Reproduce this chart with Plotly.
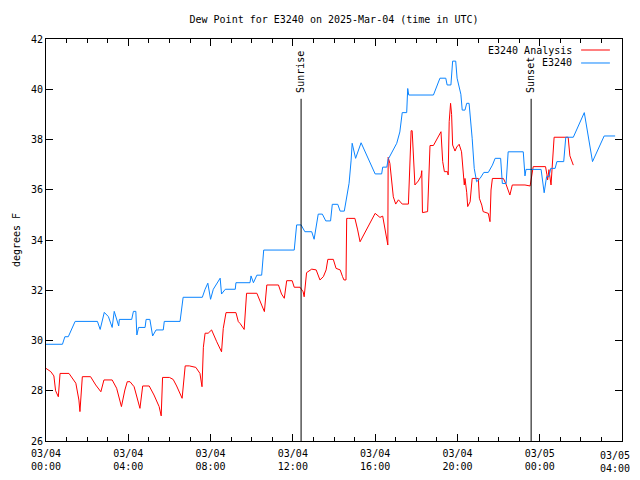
import plotly.graph_objects as go

# ---- data ----
analysis_times = [
    "03-04 00:00", "03-04 00:14", "03-04 00:23", "03-04 00:28", "03-04 00:36", "03-04 00:41",
    "03-04 01:07", "03-04 01:27", "03-04 01:36", "03-04 01:39", "03-04 01:46", "03-04 02:10",
    "03-04 02:25", "03-04 02:40", "03-04 02:49", "03-04 03:13", "03-04 03:26", "03-04 03:40",
    "03-04 03:50", "03-04 03:57", "03-04 04:05", "03-04 04:17", "03-04 04:34", "03-04 04:42",
    "03-04 05:01", "03-04 05:15", "03-04 05:30", "03-04 05:36", "03-04 05:40", "03-04 06:00",
    "03-04 06:11", "03-04 06:21", "03-04 06:37", "03-04 06:46", "03-04 06:58", "03-04 07:17",
    "03-04 07:29", "03-04 07:35", "03-04 07:39", "03-04 07:44", "03-04 07:53", "03-04 08:03",
    "03-04 08:18", "03-04 08:32", "03-04 08:37", "03-04 08:45", "03-04 09:14", "03-04 09:21",
    "03-04 09:26", "03-04 09:38", "03-04 09:45", "03-04 10:15", "03-04 10:29", "03-04 10:37",
    "03-04 10:44", "03-04 11:18", "03-04 11:27", "03-04 11:35", "03-04 11:42", "03-04 11:58",
    "03-04 12:04", "03-04 12:21", "03-04 12:30", "03-04 12:33", "03-04 12:40", "03-04 12:55",
    "03-04 13:08", "03-04 13:19", "03-04 13:29", "03-04 13:37", "03-04 13:42", "03-04 13:58",
    "03-04 14:06", "03-04 14:18", "03-04 14:25", "03-04 14:29", "03-04 14:35", "03-04 14:37",
    "03-04 14:42", "03-04 15:01", "03-04 15:09", "03-04 15:16", "03-04 16:00", "03-04 16:14",
    "03-04 16:22", "03-04 16:37", "03-04 16:38", "03-04 16:43", "03-04 16:53", "03-04 17:00",
    "03-04 17:08", "03-04 17:19", "03-04 17:37", "03-04 17:45", "03-04 17:48", "03-04 17:53",
    "03-04 17:56", "03-04 18:06", "03-04 18:14", "03-04 18:16", "03-04 18:18", "03-04 18:33",
    "03-04 18:37", "03-04 18:40", "03-04 18:50", "03-04 19:12", "03-04 19:17", "03-04 19:22",
    "03-04 19:31", "03-04 19:33", "03-04 19:36", "03-04 19:40", "03-04 19:43", "03-04 19:46",
    "03-04 19:53", "03-04 19:58", "03-04 20:05", "03-04 20:12", "03-04 20:20", "03-04 20:22",
    "03-04 20:27", "03-04 20:30", "03-04 20:37", "03-04 20:43", "03-04 21:01", "03-04 21:04",
    "03-04 21:11", "03-04 21:15", "03-04 21:30", "03-04 21:35", "03-04 21:38", "03-04 21:42",
    "03-04 22:14", "03-04 22:21", "03-04 22:33", "03-04 22:40", "03-04 23:17", "03-04 23:32",
    "03-04 23:41", "03-05 00:17", "03-05 00:21", "03-05 00:23", "03-05 00:27", "03-05 00:33",
    "03-05 00:42", "03-05 01:23", "03-05 01:28", "03-05 01:38",
]
analysis_values = [
    28.89, 28.76, 28.59, 28.00, 27.76, 28.69,
    28.69, 28.30, 27.63, 27.17, 28.56, 28.56,
    28.23, 27.96, 28.43, 28.43, 28.10, 27.37,
    28.03, 28.36, 28.36, 28.16, 27.30, 28.19,
    28.19, 27.83, 27.37, 27.00, 28.53, 28.53,
    28.45, 28.19, 27.70, 28.99, 28.99, 28.93,
    28.69, 28.16, 29.73, 30.29, 30.29, 30.42,
    29.95, 29.55, 30.48, 31.11, 31.11, 30.75,
    30.68, 30.44, 31.88, 31.88, 31.41, 31.15,
    32.21, 32.21, 31.85, 31.68, 32.38, 32.38,
    32.12, 32.12, 31.94, 31.74, 32.70, 32.84,
    32.81, 32.41, 32.54, 32.81, 33.23, 33.23,
    32.87, 32.81, 32.54, 32.41, 32.41, 34.86,
    34.86, 34.86, 34.40, 33.93, 35.06, 34.90,
    34.95, 33.80, 37.29, 37.05, 35.72, 35.43,
    35.60, 35.43, 35.43, 38.35, 38.35, 36.72,
    36.19, 36.35, 36.55, 36.76, 35.09, 35.13,
    36.39, 37.76, 37.76, 38.31, 37.12, 36.72,
    36.72, 36.59, 38.71, 39.44, 39.00, 37.78,
    37.54, 37.70, 37.81, 37.51, 36.19, 36.45,
    35.90, 35.33, 35.52, 36.45, 36.45, 35.66,
    35.39, 35.13, 35.06, 34.73, 35.99, 36.45,
    36.45, 36.25, 35.79, 36.19, 36.19, 36.15,
    36.92, 36.92, 36.60, 36.39, 36.80, 36.19,
    38.09, 38.09, 37.35, 36.98,
]

station_times = [
    "03-04 00:00", "03-04 00:48", "03-04 00:55", "03-04 01:05", "03-04 01:25", "03-04 02:30",
    "03-04 02:38", "03-04 02:50", "03-04 03:02", "03-04 03:13", "03-04 03:19", "03-04 03:32",
    "03-04 03:34", "03-04 04:10", "03-04 04:15", "03-04 04:22", "03-04 04:25", "03-04 04:30",
    "03-04 04:49", "03-04 04:52", "03-04 05:03", "03-04 05:11", "03-04 05:21", "03-04 05:42",
    "03-04 05:45", "03-04 06:31", "03-04 06:40", "03-04 07:36", "03-04 07:44", "03-04 07:52",
    "03-04 08:00", "03-04 08:08", "03-04 08:28", "03-04 08:32", "03-04 08:43", "03-04 09:12",
    "03-04 09:14", "03-04 09:55", "03-04 09:58", "03-04 10:05", "03-04 10:15", "03-04 10:29",
    "03-04 10:35", "03-04 12:04", "03-04 12:11", "03-04 12:24", "03-04 12:35", "03-04 12:55",
    "03-04 13:02", "03-04 13:10", "03-04 13:14", "03-04 13:26", "03-04 13:36", "03-04 13:50",
    "03-04 13:55", "03-04 14:11", "03-04 14:18", "03-04 14:30", "03-04 14:37", "03-04 14:44",
    "03-04 14:50", "03-04 14:53", "03-04 15:03", "03-04 15:19", "03-04 16:00", "03-04 16:19",
    "03-04 16:22", "03-04 16:34", "03-04 16:38", "03-04 17:03", "03-04 17:12", "03-04 17:19",
    "03-04 17:32", "03-04 17:35", "03-04 17:38", "03-04 18:50", "03-04 19:09", "03-04 19:26",
    "03-04 19:30", "03-04 19:41", "03-04 19:46", "03-04 19:55", "03-04 19:59", "03-04 20:10",
    "03-04 20:14", "03-04 20:22", "03-04 20:27", "03-04 20:34", "03-04 20:43", "03-04 20:49",
    "03-04 20:56", "03-04 21:06", "03-04 21:17", "03-04 21:30", "03-04 21:42", "03-04 21:50",
    "03-04 22:06", "03-04 22:11", "03-04 22:22", "03-04 22:28", "03-04 23:12", "03-04 23:17",
    "03-04 23:20", "03-05 00:04", "03-05 00:13", "03-05 00:20", "03-05 00:27", "03-05 00:32",
    "03-05 00:45", "03-05 00:50", "03-05 01:10", "03-05 01:16", "03-05 01:38", "03-05 02:10",
    "03-05 02:34", "03-05 03:08", "03-05 03:40",
]
station_values = [
    29.85, 29.85, 30.15, 30.15, 30.76, 30.76,
    30.44, 31.12, 30.95, 30.52, 31.16, 30.58,
    30.84, 30.84, 31.16, 31.16, 30.22, 30.52,
    30.52, 30.84, 30.84, 30.18, 30.42, 30.42,
    30.76, 30.76, 31.72, 31.72, 32.04, 32.28,
    31.64, 32.04, 32.48, 31.85, 32.04, 32.04,
    32.30, 32.30, 32.57, 32.30, 32.60, 32.60,
    33.60, 33.60, 34.60, 34.60, 34.33, 34.33,
    34.03, 34.60, 35.03, 35.03, 34.76, 34.76,
    35.42, 35.42, 35.15, 35.15, 35.72, 36.26,
    37.18, 37.85, 37.25, 37.87, 36.63, 36.63,
    36.90, 36.90, 37.21, 37.85, 38.30, 39.07,
    39.07, 40.03, 39.77, 39.77, 40.44, 40.44,
    40.17, 40.17, 41.12, 41.12, 40.44, 39.80,
    39.17, 39.17, 39.44, 39.44, 38.05, 36.85,
    36.32, 36.45, 36.69, 36.69, 36.98, 37.25,
    37.25, 36.25, 36.25, 37.51, 37.51, 36.55,
    36.81, 36.81, 35.88, 36.52, 36.52, 36.85,
    36.85, 37.12, 37.12, 38.09, 38.09, 39.07,
    37.12, 38.14, 38.14,
]

tick_times = ["03-04 00:00", "03-04 04:00", "03-04 08:00", "03-04 12:00",
              "03-04 16:00", "03-04 20:00", "03-05 00:00", "03-05 04:00"]
tick_labels = ["03/04<br>00:00", "03/04<br>04:00", "03/04<br>08:00", "03/04<br>12:00",
               "03/04<br>16:00", "03/04<br>20:00", "03/05<br>00:00", "03/05<br>04:00"]

sun_events = ["Sunrise", "Sunset"]
sun_times = ["03-04 12:24", "03-04 23:35"]
sun_line_top = 39.62

YEAR = "2025-"
def ts(lst):
    return [YEAR + s for s in lst]

FONT = "DejaVu Sans Mono"
RED = "#ff0000"
BLUE = "#0a84ff"

fig = go.Figure()
fig.add_trace(go.Scatter(x=ts(analysis_times), y=analysis_values, mode="lines",
                         line=dict(color=RED, width=1), name="E3240 Analysis"))
fig.add_trace(go.Scatter(x=ts(station_times), y=station_values, mode="lines",
                         line=dict(color=BLUE, width=1), name="E3240"))

shapes = []
annotations = []
for name, t in zip(sun_events, ts(sun_times)):
    shapes.append(dict(type="line", xref="x", yref="y", x0=t, x1=t, y0=26, y1=sun_line_top,
                       line=dict(color="black", width=1)))
    annotations.append(dict(xref="x", yref="y", x=t, y=sun_line_top, text=name,
                            textangle=-90, showarrow=False, xanchor="center",
                            yanchor="bottom", yshift=4,
                            font=dict(family=FONT, size=10, color="black")))

# legend (text left, line sample right, as in the reference)
legend_items = [("E3240 Analysis", RED), ("E3240", BLUE)]
leg_y = [0.9726, 0.9403]
for (label, col), yy in zip(legend_items, leg_y):
    annotations.append(dict(xref="paper", yref="paper", x=0.916, y=yy, text=label,
                            showarrow=False, xanchor="right", yanchor="middle",
                            font=dict(family=FONT, size=10, color="black")))
    shapes.append(dict(type="line", xref="paper", yref="paper", x0=0.929, x1=0.979,
                       y0=yy, y1=yy, line=dict(color=col, width=1)))

annotations.append(dict(xref="paper", yref="paper", x=-0.052, y=0.5, text="degrees F",
                        textangle=-90, showarrow=False, xanchor="center", yanchor="middle",
                        font=dict(family=FONT, size=10, color="black")))

# last x tick label drawn as an annotation so it stays inside the figure
annotations.append(dict(xref="paper", yref="paper", x=1.0, y=0, xshift=10, yshift=-7,
                        text=tick_labels[-1], showarrow=False, xanchor="right", yanchor="top",
                        align="right", font=dict(family=FONT, size=10, color="black")))
shown_labels = tick_labels[:-1] + [""]

# the page body adds an 8px offset, margins compensate for it
fig.update_layout(
    width=640, height=480,
    margin=dict(l=38, r=26, t=31, b=47),
    paper_bgcolor="white", plot_bgcolor="white",
    showlegend=False,
    font=dict(family=FONT, size=10, color="black"),
    title=dict(text="Dew Point for E3240 on 2025-Mar-04 (time in UTC)",
               x=0.5, xref="paper", xanchor="center",
               y=1 - 11 / 480, yref="container", yanchor="middle",
               font=dict(family=FONT, size=10, color="black")),
    shapes=shapes, annotations=annotations,
)
fig.update_xaxes(
    type="date", range=[YEAR + "03-04 00:00", YEAR + "03-05 04:00"],
    tickmode="array", tickvals=ts(tick_times), ticktext=shown_labels,
    ticks="inside", ticklen=7, tickcolor="black", tickwidth=1, ticklabelstandoff=3,
    minor=dict(tickmode="linear", tick0=YEAR + "03-04 00:00", dtick=3600000,
               ticks="inside", ticklen=4, tickcolor="black", tickwidth=1, showgrid=False),
    showline=True, linecolor="black", linewidth=1, mirror="allticks",
    showgrid=False, zeroline=False,
    tickfont=dict(family=FONT, size=10, color="black"),
)
fig.update_yaxes(
    range=[26, 42], tickmode="linear", tick0=26, dtick=2,
    ticks="inside", ticklen=7, tickcolor="black", tickwidth=1,
    showline=True, linecolor="black", linewidth=1, mirror="allticks",
    showgrid=False, zeroline=False,
    tickfont=dict(family=FONT, size=10, color="black"),
)

fig.write_html("out.html")
